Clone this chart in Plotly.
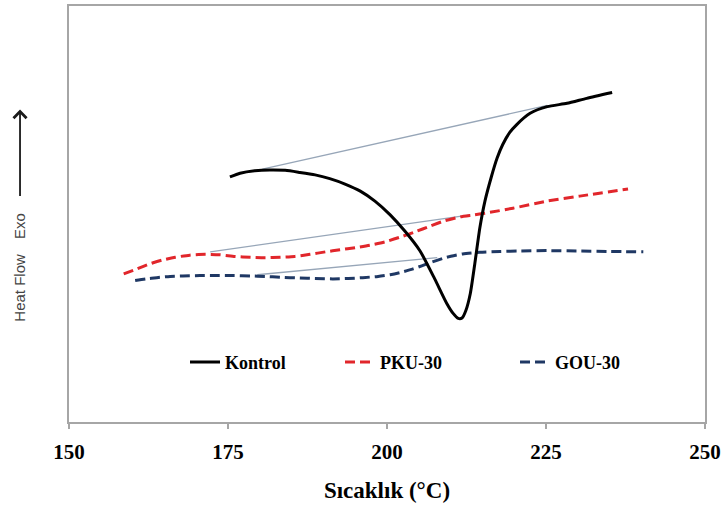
import plotly.graph_objects as go

# DSC curves: temperature (°C) vs heat flow (arbitrary units, exo up)
kontrol_T = [175.3, 176.9, 179.2, 181.6, 184.0, 186.3, 188.7, 191.0, 193.4, 195.8,
             198.1, 200.5, 202.8, 205.2, 207.5, 209.4, 210.4, 211.2, 211.8, 212.4,
             213.1, 213.8, 214.6, 215.4, 216.4, 217.3, 218.2, 219.3, 220.4, 222.5,
             225.2, 228.3, 231.4, 235.4]
kontrol_HF = [58.9, 59.8, 60.4, 60.6, 60.5, 60.0, 59.4, 58.5, 57.2, 55.5,
              53.1, 49.8, 45.9, 41.1, 34.4, 28.5, 26.1, 24.9, 25.0, 26.8,
              30.9, 38.0, 46.7, 53.1, 58.9, 63.4, 66.7, 69.6, 71.5, 74.2,
              75.8, 76.6, 77.8, 79.2]

pku_T = [158.6, 160.7, 162.7, 164.6, 166.7, 169.0, 171.4, 173.7, 176.1, 178.5,
         180.8, 183.2, 185.5, 187.9, 190.3, 192.6, 195.0, 197.3, 199.7, 202.0,
         204.4, 206.8, 209.1, 211.5, 213.8, 216.2, 219.8, 225.2, 230.3, 237.9]
pku_HF = [35.6, 36.8, 38.0, 38.9, 39.6, 40.1, 40.3, 40.2, 39.8, 39.6,
          39.5, 39.6, 39.8, 40.3, 40.9, 41.4, 41.9, 42.5, 43.3, 44.4,
          45.7, 47.1, 48.4, 49.3, 49.8, 50.4, 51.4, 53.1, 54.3, 56.0]

gou_T = [160.4, 162.1, 163.8, 165.9, 167.9, 170.6, 173.3, 175.8, 178.5, 180.8,
         183.2, 186.3, 188.7, 191.5, 193.9, 196.2, 198.6, 200.5, 202.0, 204.1,
         206.8, 209.4, 211.9, 214.6, 217.8, 220.9, 225.2, 230.3, 235.1, 240.3]
gou_HF = [34.0, 34.4, 34.7, 35.0, 35.1, 35.2, 35.2, 35.2, 35.1, 35.0,
          34.8, 34.6, 34.5, 34.4, 34.5, 34.7, 35.0, 35.4, 35.9, 36.8,
          38.3, 39.6, 40.4, 40.8, 41.0, 41.1, 41.2, 41.1, 41.0, 40.9]

# Baseline tangents (start/end temperature and heat flow)
base_kontrol_T = [180.4, 225.2]
base_kontrol_HF = [60.8, 76.1]
base_pku_T = [172.2, 213.1]
base_pku_HF = [40.9, 49.8]
base_gou_T = [179.6, 207.9]
base_gou_HF = [35.4, 39.5]

x_ticks = [150, 175, 200, 225, 250]

RED = "#e1262b"
NAVY = "#1f3864"
BASE = "#97a6b8"
SERIF = "Liberation Serif, Times New Roman, serif"
SANS = "Liberation Sans, Arial, sans-serif"
DASH = "10px,5px"

fig = go.Figure()

for bx, by in [(base_kontrol_T, base_kontrol_HF), (base_pku_T, base_pku_HF),
               (base_gou_T, base_gou_HF)]:
    fig.add_trace(go.Scatter(x=bx, y=by, mode="lines", showlegend=False,
                             line=dict(color=BASE, width=1.3), hoverinfo="skip"))

fig.add_trace(go.Scatter(x=gou_T, y=gou_HF, mode="lines", name="GOU-30",
                         line=dict(color=NAVY, width=3, dash=DASH,
                                   shape="spline", smoothing=0.6),
                         legend="legend3"))
fig.add_trace(go.Scatter(x=pku_T, y=pku_HF, mode="lines", name="PKU-30",
                         line=dict(color=RED, width=3, dash=DASH,
                                   shape="spline", smoothing=0.6),
                         legend="legend2"))
fig.add_trace(go.Scatter(x=kontrol_T, y=kontrol_HF, mode="lines", name="Kontrol",
                         line=dict(color="black", width=3, shape="spline", smoothing=0.6),
                         legend="legend"))

legend_font = dict(family=SERIF, size=18, color="black", weight="bold")
common_legend = dict(orientation="h", xanchor="left", yanchor="middle", y=0.1435,
                     bgcolor="rgba(0,0,0,0)", borderwidth=0, font=legend_font)

fig.update_layout(
    width=725, height=506,
    margin=dict(l=69, r=20, t=4, b=84),
    paper_bgcolor="white", plot_bgcolor="white",
    font=dict(family=SERIF),
    legend=dict(x=0.1824, **common_legend),
    legend2=dict(x=0.4261, **common_legend),
    legend3=dict(x=0.7013, **common_legend),
    xaxis=dict(
        range=[150, 250], tickvals=x_ticks, ticktext=[str(t) for t in x_ticks],
        showgrid=False, zeroline=False,
        showline=True, linecolor="#a6a6a6", linewidth=2, mirror=True,
        ticks="outside", ticklen=5, tickcolor="#a6a6a6", tickwidth=1.5,
        tickfont=dict(family=SERIF, size=21, color="black", weight="bold"),
        ticklabelstandoff=5,
        title=dict(text="Sıcaklık (°C)", standoff=19,
                   font=dict(family=SERIF, size=23, color="black", weight="bold")),
    ),
    yaxis=dict(
        range=[0, 100], showticklabels=False, ticks="", showgrid=False,
        zeroline=False, showline=True, linecolor="#a6a6a6", linewidth=2, mirror=True,
    ),
    annotations=[
        dict(xref="paper", yref="paper", x=-0.077, y=0.751, text="", showarrow=True,
             ax=0, ay=88, arrowhead=4, arrowsize=1.4, arrowwidth=1.8, arrowcolor="#1a1a1a"),
        dict(xref="paper", yref="paper", x=-0.077, y=(422 - 225) / 418, text="Exo",
             xanchor="center", yanchor="middle", textangle=-90, showarrow=False,
             font=dict(family=SANS, size=15, color="#444444")),
        dict(xref="paper", yref="paper", x=-0.077, y=(422 - 287) / 418, text="Heat Flow",
             xanchor="center", yanchor="middle", textangle=-90, showarrow=False,
             font=dict(family=SANS, size=15, color="#444444")),
    ],
)

fig.write_html("out.html")
